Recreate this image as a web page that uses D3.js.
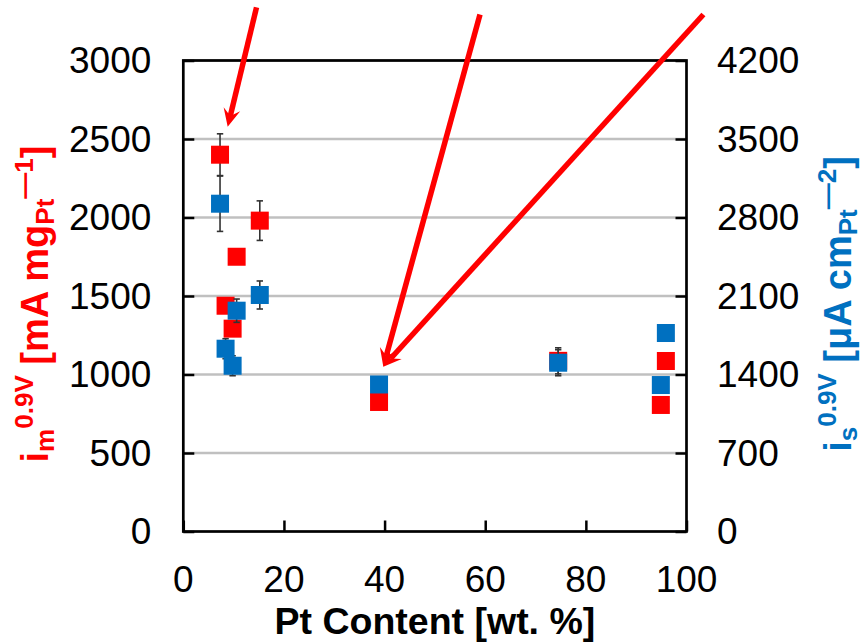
<!DOCTYPE html>
<html>
<head>
<meta charset="utf-8">
<script src="https://cdn.jsdelivr.net/npm/d3@7"></script>
<style>
  html, body { margin: 0; padding: 0; background: #fff; }
  svg text { font-family: "Liberation Sans", Arial, sans-serif; }
</style>
</head>
<body>
<svg id="chart" width="864" height="643"></svg>
<script>
// ---- data ----
const ptContent = [7.3, 15.2, 10.6, 8.4, 9.8, 38.9, 74.5, 95.9, 94.9];
const massActivity = [2400, 1980, 1750, 1438, 1292, 825, 1087, 1086, 806];        // mA mg_Pt^-1 (left axis)
const massActivityErr = [133, 126, 0, 0, 0, 0, 83, 0, 0];
const specActivity = [2923, 2109, 1969, 1630, 1478, 1311, 1505, 1770, 1306];      // µA cm_Pt^-2 (right axis)
const specActivityErr = [247, 125, 104, 89, 89, 0, 116, 0, 0];
const xTicks = [0, 20, 40, 60, 80, 100];
const yLeftTicks = [0, 500, 1000, 1500, 2000, 2500, 3000];
const yRightTicks = [0, 700, 1400, 2100, 2800, 3500, 4200];
// annotation arrows in data units (x, left-axis y)
const arrowStarts = [[14.55, 3338], [58.96, 3293], [103.36, 3293]];
const arrowEnds = [[8.82, 2578], [39.75, 1050], [39.75, 1050]];

// ---- layout ----
const pLeft = 183.3, pRight = 686.5, pTop = 60.5, pBottom = 531.5;
const RED = "#FF0000", BLUE = "#0070C0";

const svg = d3.select("#chart");
const x = d3.scaleLinear().domain([0, 100]).range([pLeft, pRight]);
const yL = d3.scaleLinear().domain([0, 3000]).range([pBottom, pTop]);
const yR = d3.scaleLinear().domain([0, 4200]).range([pBottom, pTop]);

// gridlines
svg.append("g").selectAll("line").data(yLeftTicks.filter(d => d > 0)).join("line")
  .attr("x1", pLeft).attr("x2", pRight)
  .attr("y1", d => yL(d)).attr("y2", d => yL(d))
  .attr("stroke", "#C0C0C0").attr("stroke-width", 2.5);

// axes (inward ticks)
const tickLen = 11;
const gL = svg.append("g").attr("transform", `translate(${pLeft},0)`)
  .call(d3.axisRight(yL).tickValues(yLeftTicks).tickSize(tickLen).tickFormat(""));
const gR = svg.append("g").attr("transform", `translate(${pRight},0)`)
  .call(d3.axisLeft(yR).tickValues(yRightTicks).tickSize(tickLen).tickFormat(""));
const gX = svg.append("g").attr("transform", `translate(0,${pBottom})`)
  .call(d3.axisTop(x).tickValues(xTicks).tickSize(tickLen).tickFormat(""));
[gL, gR, gX].forEach(g => {
  g.select(".domain").remove();
  g.selectAll(".tick line").attr("stroke", "#000").attr("stroke-width", 2.5);
});
// frame
svg.append("rect").attr("x", pLeft).attr("y", pTop)
  .attr("width", pRight - pLeft).attr("height", pBottom - pTop)
  .attr("fill", "none").attr("stroke", "#000").attr("stroke-width", 2.7);

// tick labels
const tickFont = 37;
svg.append("g").selectAll("text").data(yLeftTicks).join("text")
  .attr("x", pLeft - 32).attr("y", d => yL(d)).attr("dy", "0.35em")
  .attr("text-anchor", "end").attr("font-size", tickFont).attr("fill", "#000")
  .text(d => d);
svg.append("g").selectAll("text").data(yRightTicks).join("text")
  .attr("x", pRight + 30.5).attr("y", d => yR(d)).attr("dy", "0.35em")
  .attr("text-anchor", "start").attr("font-size", tickFont).attr("fill", "#000")
  .text(d => d);
svg.append("g").selectAll("text").data(xTicks).join("text")
  .attr("x", d => x(d)).attr("y", 592)
  .attr("text-anchor", "middle").attr("font-size", tickFont).attr("fill", "#000")
  .text(d => d);

// x title
svg.append("text").attr("x", (pLeft + pRight) / 2).attr("y", 634)
  .attr("text-anchor", "middle").attr("font-size", 37.5).attr("font-weight", "bold")
  .attr("fill", "#000").text("Pt Content [wt. %]");

// y titles with sub/superscripts
function richTitle(parts, cx, cy, color) {
  const t = svg.append("text")
    .attr("transform", `translate(${cx},${cy}) rotate(-90)`)
    .attr("text-anchor", "middle").attr("font-weight", "bold").attr("fill", color);
  parts.forEach(p => {
    t.append("tspan").attr("font-size", p.size).attr("dy", p.dy).text(p.text);
  });
}
const big = 38, small = 26;
richTitle([
  { text: "i", size: big, dy: 0 },
  { text: "m", size: small, dy: 6 },
  { text: "0.9V", size: small, dy: -21 },
  { text: " [mA mg", size: big, dy: 15 },
  { text: "Pt", size: small, dy: 6 },
  { text: "—1", size: small, dy: -21 },
  { text: "]", size: big, dy: 15 }
], 48, 304, RED);
richTitle([
  { text: "i", size: big, dy: 0 },
  { text: "s", size: small, dy: 6 },
  { text: "0.9V", size: small, dy: -21 },
  { text: " [μA cm", size: big, dy: 15 },
  { text: "Pt", size: small, dy: 6 },
  { text: "—2", size: small, dy: -21 },
  { text: "]", size: big, dy: 15 }
], 851, 304, BLUE);

// error bars + markers
const idx = d3.range(ptContent.length);
const cap = 3.2, msize = 18;
function errorBars(vals, errs, yScale) {
  const g = svg.append("g").attr("stroke", "#333").attr("stroke-width", 1.6);
  idx.filter(i => errs[i] > 0).forEach(i => {
    const cx = x(ptContent[i]);
    const y1 = yScale(vals[i] - errs[i]), y2 = yScale(vals[i] + errs[i]);
    g.append("line").attr("x1", cx).attr("x2", cx).attr("y1", y1).attr("y2", y2);
    g.append("line").attr("x1", cx - cap).attr("x2", cx + cap).attr("y1", y1).attr("y2", y1);
    g.append("line").attr("x1", cx - cap).attr("x2", cx + cap).attr("y1", y2).attr("y2", y2);
  });
}
function markers(vals, yScale, color) {
  svg.append("g").selectAll("rect").data(idx).join("rect")
    .attr("x", i => x(ptContent[i]) - msize / 2)
    .attr("y", i => yScale(vals[i]) - msize / 2)
    .attr("width", msize).attr("height", msize)
    .attr("fill", color);
}
errorBars(massActivity, massActivityErr, yL);
markers(massActivity, yL, RED);
errorBars(specActivity, specActivityErr, yR);
markers(specActivity, yR, BLUE);

// arrows
const ga = svg.append("g");
arrowStarts.forEach((s, i) => {
  const e = arrowEnds[i];
  const x1 = x(s[0]), y1 = yL(s[1]), x2 = x(e[0]), y2 = yL(e[1]);
  const ang = Math.atan2(y2 - y1, x2 - x1);
  const L = 18, W = 8.5, notch = 11;
  const ux = Math.cos(ang), uy = Math.sin(ang), px = -uy, py = ux;
  ga.append("line")
    .attr("x1", x1).attr("y1", y1)
    .attr("x2", x2 - ux * notch).attr("y2", y2 - uy * notch)
    .attr("stroke", RED).attr("stroke-width", 5.5);
  const pts = [
    [x2, y2],
    [x2 - ux * L + px * W, y2 - uy * L + py * W],
    [x2 - ux * notch, y2 - uy * notch],
    [x2 - ux * L - px * W, y2 - uy * L - py * W]
  ];
  ga.append("polygon").attr("points", pts.map(p => p.join(",")).join(" "))
    .attr("fill", RED);
});
</script>
</body>
</html>
